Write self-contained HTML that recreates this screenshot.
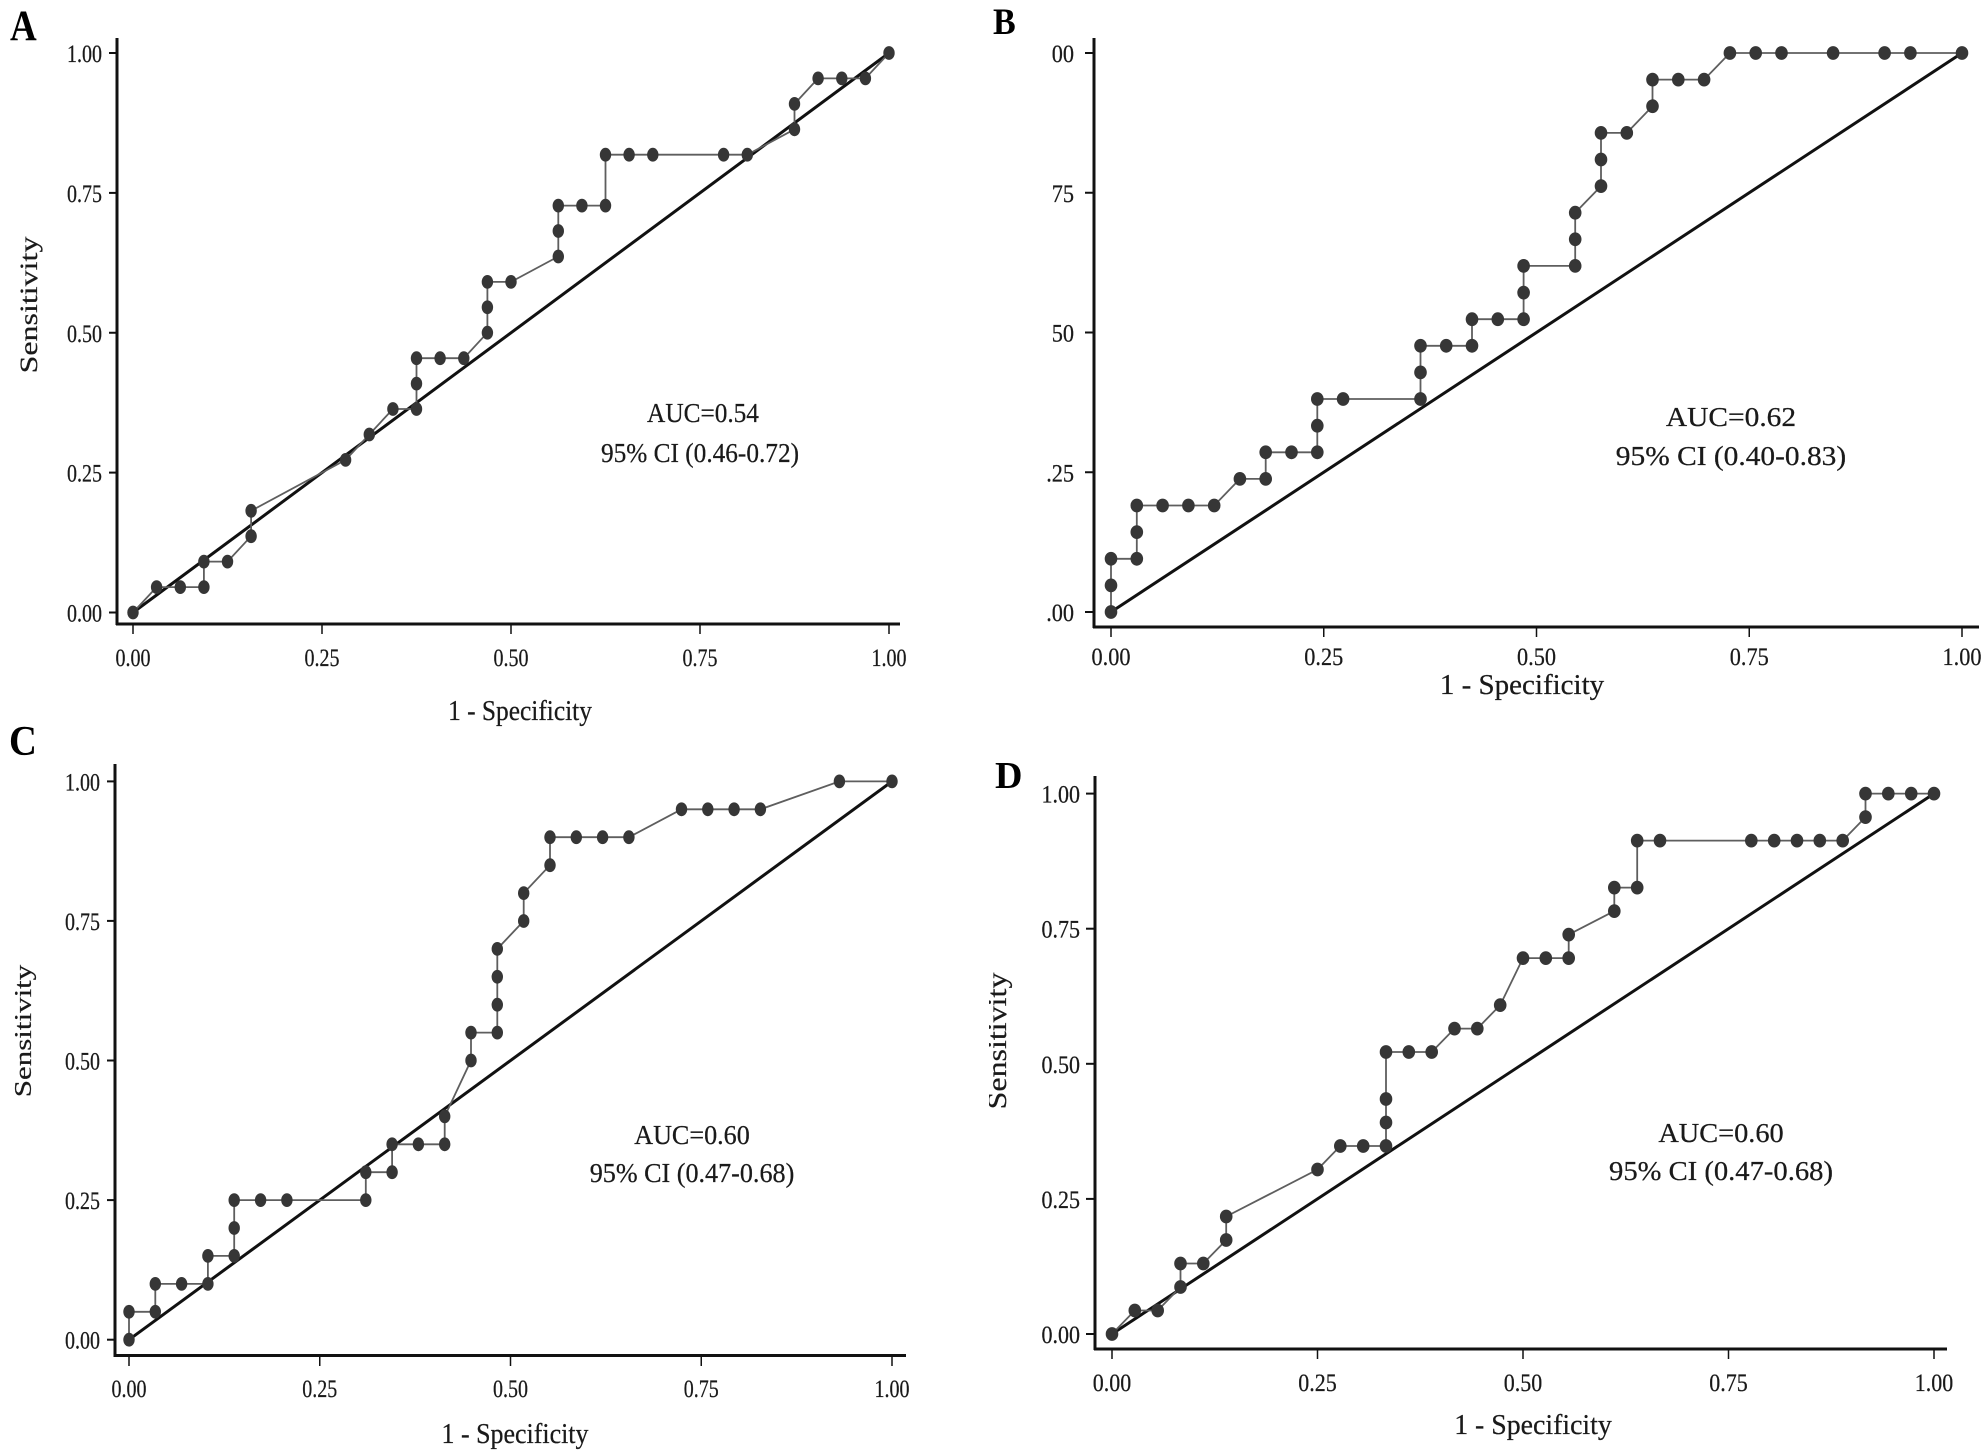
<!DOCTYPE html>
<html>
<head>
<meta charset="utf-8">
<style>
html,body{margin:0;padding:0;background:#fff;}
svg{display:block;}
text{font-family:"Liberation Serif","Times New Roman",serif;fill:#1a1a1a;stroke:#1a1a1a;stroke-width:0.25px;}
.tk{font-size:25px;}
.ttl{font-size:29px;}
.auc{font-size:27.5px;}
.lt{font-weight:bold;fill:#000;stroke:none;}
</style>
</head>
<body>
<svg width="1984" height="1455" viewBox="0 0 1984 1455" xmlns="http://www.w3.org/2000/svg">
<defs>
<marker id="m1" markerUnits="userSpaceOnUse" markerWidth="16" markerHeight="18" refX="8" refY="9" orient="0" style="overflow:visible">
<ellipse cx="8" cy="9" rx="5.7" ry="6.9" fill="#363636"/>
</marker>
<marker id="m2" markerUnits="userSpaceOnUse" markerWidth="16" markerHeight="18" refX="8" refY="9" orient="0" style="overflow:visible">
<ellipse cx="8" cy="9" rx="6.3" ry="6.9" fill="#363636"/>
</marker>
<clipPath id="clipD"><rect x="989" y="700" width="995" height="755"/></clipPath>
</defs>
<rect width="1984" height="1455" fill="#fff"/>

<!-- ================= PANEL A ================= -->
<g>
<line x1="117" y1="38" x2="117" y2="625" stroke="#111" stroke-width="3"/>
<line x1="116" y1="624" x2="900" y2="624" stroke="#111" stroke-width="3"/>
<g stroke="#111" stroke-width="2">
<line x1="109" y1="53" x2="117" y2="53"/>
<line x1="109" y1="192.9" x2="117" y2="192.9"/>
<line x1="109" y1="332.75" x2="117" y2="332.75"/>
<line x1="109" y1="472.6" x2="117" y2="472.6"/>
<line x1="109" y1="612.5" x2="117" y2="612.5"/>
</g>
<g stroke="#111" stroke-width="1.5">
<line x1="133" y1="624" x2="133" y2="634"/>
<line x1="322" y1="624" x2="322" y2="634"/>
<line x1="511" y1="624" x2="511" y2="634"/>
<line x1="700" y1="624" x2="700" y2="634"/>
<line x1="889" y1="624" x2="889" y2="634"/>
</g>
<g class="tk" text-anchor="end">
<text transform="translate(102,62) scale(0.8,1)">1.00</text>
<text transform="translate(102,201.9) scale(0.8,1)">0.75</text>
<text transform="translate(102,341.75) scale(0.8,1)">0.50</text>
<text transform="translate(102,481.6) scale(0.8,1)">0.25</text>
<text transform="translate(102,621.5) scale(0.8,1)">0.00</text>
</g>
<g class="tk" text-anchor="middle">
<text transform="translate(133,666) scale(0.8,1)">0.00</text>
<text transform="translate(322,666) scale(0.8,1)">0.25</text>
<text transform="translate(511,666) scale(0.8,1)">0.50</text>
<text transform="translate(700,666) scale(0.8,1)">0.75</text>
<text transform="translate(889,666) scale(0.8,1)">1.00</text>
</g>
<text class="ttl" text-anchor="middle" transform="translate(520,720) scale(0.876,1)">1 - Specificity</text>
<text style="font-size:32px" text-anchor="middle" transform="translate(37,305) rotate(-90) scale(1,0.8)">Sensitivity</text>
<text class="auc" text-anchor="middle" transform="translate(703,422) scale(0.92,1)">AUC=0.54</text>
<text class="auc" text-anchor="middle" transform="translate(700,462) scale(0.92,1)">95% CI (0.46-0.72)</text>
<text class="lt" style="font-size:43px" transform="translate(10,40) scale(0.86,1)">A</text>
<line x1="133" y1="612.5" x2="889" y2="53" stroke="#111" stroke-width="3"/>
<polyline fill="none" stroke="#5e5e5e" stroke-width="1.8" marker-start="url(#m1)" marker-mid="url(#m1)" marker-end="url(#m1)"
points="133,612.5 156.6,587.1 180.3,587.1 203.9,587.1 203.9,561.6 227.5,561.6 251.1,536.2 251.1,510.8 345.6,459.9 369.3,434.5 392.9,409.0 416.5,409.0 416.5,383.6 416.5,358.2 440.1,358.2 463.8,358.2 487.4,332.7 487.4,307.3 487.4,281.9 511.0,281.9 558.3,256.5 558.3,231.0 558.3,205.6 581.9,205.6 605.5,205.6 605.5,154.7 629.1,154.7 652.8,154.7 723.6,154.7 747.3,154.7 794.5,129.3 794.5,103.9 818.1,78.4 841.8,78.4 865.4,78.4 889,53"/>
</g>

<!-- ================= PANEL B ================= -->
<g>
<line x1="1094" y1="38" x2="1094" y2="628" stroke="#111" stroke-width="3"/>
<line x1="1093" y1="627" x2="1979" y2="627" stroke="#111" stroke-width="3"/>
<g stroke="#111" stroke-width="2">
<line x1="1085" y1="53" x2="1094" y2="53"/>
<line x1="1085" y1="192.75" x2="1094" y2="192.75"/>
<line x1="1085" y1="332.5" x2="1094" y2="332.5"/>
<line x1="1085" y1="472.25" x2="1094" y2="472.25"/>
<line x1="1085" y1="612" x2="1094" y2="612"/>
</g>
<g stroke="#111" stroke-width="1.5">
<line x1="1111" y1="627" x2="1111" y2="637"/>
<line x1="1323.75" y1="627" x2="1323.75" y2="637"/>
<line x1="1536.5" y1="627" x2="1536.5" y2="637"/>
<line x1="1749.25" y1="627" x2="1749.25" y2="637"/>
<line x1="1962" y1="627" x2="1962" y2="637"/>
</g>
<g class="tk" text-anchor="end">
<text transform="translate(1074,62) scale(0.89,1)">00</text>
<text transform="translate(1074,201.75) scale(0.89,1)">75</text>
<text transform="translate(1074,341.5) scale(0.89,1)">50</text>
<text transform="translate(1074,481.25) scale(0.89,1)">.25</text>
<text transform="translate(1074,621) scale(0.89,1)">.00</text>
</g>
<g class="tk" text-anchor="middle">
<text transform="translate(1111,665) scale(0.89,1)">0.00</text>
<text transform="translate(1323.75,665) scale(0.89,1)">0.25</text>
<text transform="translate(1536.5,665) scale(0.89,1)">0.50</text>
<text transform="translate(1749.25,665) scale(0.89,1)">0.75</text>
<text transform="translate(1962,665) scale(0.89,1)">1.00</text>
</g>
<text class="ttl" text-anchor="middle" transform="translate(1522,694) scale(1.0,1)">1 - Specificity</text>
<text class="auc" text-anchor="middle" transform="translate(1731,426) scale(1.07,1)">AUC=0.62</text>
<text class="auc" text-anchor="middle" transform="translate(1731,465) scale(1.07,1)">95% CI (0.40-0.83)</text>
<text class="lt" style="font-size:37px" transform="translate(993,34) scale(0.92,1)">B</text>
<line x1="1111" y1="612" x2="1962" y2="53" stroke="#111" stroke-width="3"/>
<polyline fill="none" stroke="#5e5e5e" stroke-width="1.8" marker-start="url(#m2)" marker-mid="url(#m2)" marker-end="url(#m2)"
points="1111,612 1111,585.4 1111,558.8 1136.8,558.8 1136.8,532.1 1136.8,505.5 1162.6,505.5 1188.4,505.5 1214.2,505.5 1239.9,478.9 1265.7,478.9 1265.7,452.3 1291.5,452.3 1317.3,452.3 1317.3,425.7 1317.3,399.0 1343.1,399.0 1420.5,399.0 1420.5,372.4 1420.5,345.8 1446.2,345.8 1472.0,345.8 1472.0,319.2 1497.8,319.2 1523.6,319.2 1523.6,292.6 1523.6,265.9 1575.2,265.9 1575.2,239.3 1575.2,212.7 1601.0,186.1 1601.0,159.5 1601.0,132.9 1626.8,132.9 1652.5,106.2 1652.5,79.6 1678.3,79.6 1704.1,79.6 1729.9,53 1755.7,53 1781.5,53 1833.1,53 1884.6,53 1910.4,53 1962,53"/>
</g>

<!-- ================= PANEL C ================= -->
<g>
<line x1="115" y1="764" x2="115" y2="1357" stroke="#111" stroke-width="3"/>
<line x1="114" y1="1355.5" x2="906" y2="1355.5" stroke="#111" stroke-width="3"/>
<g stroke="#111" stroke-width="2">
<line x1="107" y1="781.4" x2="115" y2="781.4"/>
<line x1="107" y1="920.9" x2="115" y2="920.9"/>
<line x1="107" y1="1060.5" x2="115" y2="1060.5"/>
<line x1="107" y1="1200.1" x2="115" y2="1200.1"/>
<line x1="107" y1="1339.7" x2="115" y2="1339.7"/>
</g>
<g stroke="#111" stroke-width="1.5">
<line x1="129" y1="1355.5" x2="129" y2="1366"/>
<line x1="319.75" y1="1355.5" x2="319.75" y2="1366"/>
<line x1="510.5" y1="1355.5" x2="510.5" y2="1366"/>
<line x1="701.25" y1="1355.5" x2="701.25" y2="1366"/>
<line x1="892" y1="1355.5" x2="892" y2="1366"/>
</g>
<g class="tk" text-anchor="end">
<text transform="translate(100,790.4) scale(0.8,1)">1.00</text>
<text transform="translate(100,929.9) scale(0.8,1)">0.75</text>
<text transform="translate(100,1069.5) scale(0.8,1)">0.50</text>
<text transform="translate(100,1209.1) scale(0.8,1)">0.25</text>
<text transform="translate(100,1348.7) scale(0.8,1)">0.00</text>
</g>
<g class="tk" text-anchor="middle">
<text transform="translate(129,1397) scale(0.8,1)">0.00</text>
<text transform="translate(319.75,1397) scale(0.8,1)">0.25</text>
<text transform="translate(510.5,1397) scale(0.8,1)">0.50</text>
<text transform="translate(701.25,1397) scale(0.8,1)">0.75</text>
<text transform="translate(892,1397) scale(0.8,1)">1.00</text>
</g>
<text class="ttl" text-anchor="middle" transform="translate(515,1443) scale(0.895,1)">1 - Specificity</text>
<text style="font-size:31px" text-anchor="middle" transform="translate(31,1031) rotate(-90) scale(1,0.8)">Sensitivity</text>
<text class="auc" text-anchor="middle" transform="translate(692,1144) scale(0.95,1)">AUC=0.60</text>
<text class="auc" text-anchor="middle" transform="translate(692,1182) scale(0.95,1)">95% CI (0.47-0.68)</text>
<text class="lt" style="font-size:42px" transform="translate(9,755) scale(0.92,1)">C</text>
<line x1="129" y1="1339.7" x2="892" y2="781.4" stroke="#111" stroke-width="3"/>
<polyline fill="none" stroke="#5e5e5e" stroke-width="1.8" marker-start="url(#m1)" marker-mid="url(#m1)" marker-end="url(#m1)"
points="129,1339.7 129,1311.8 155.3,1311.8 155.3,1283.9 181.6,1283.9 207.9,1283.9 207.9,1255.9 234.2,1255.9 234.2,1228.0 234.2,1200.1 260.6,1200.1 286.9,1200.1 365.8,1200.1 365.8,1172.2 392.1,1172.2 392.1,1144.3 418.4,1144.3 444.7,1144.3 444.7,1116.4 471.0,1060.5 471.0,1032.6 497.3,1032.6 497.3,1004.7 497.3,976.8 497.3,948.9 523.7,921.0 523.7,893.1 550.0,865.2 550.0,837.2 576.3,837.2 602.6,837.2 628.9,837.2 681.5,809.3 707.8,809.3 734.1,809.3 760.4,809.3 839.4,781.4 892,781.4"/>
</g>

<!-- ================= PANEL D ================= -->
<g>
<line x1="1095" y1="776" x2="1095" y2="1350" stroke="#111" stroke-width="3"/>
<line x1="1094" y1="1349" x2="1947" y2="1349" stroke="#111" stroke-width="3"/>
<g stroke="#111" stroke-width="2">
<line x1="1086" y1="793.6" x2="1095" y2="793.6"/>
<line x1="1086" y1="928.7" x2="1095" y2="928.7"/>
<line x1="1086" y1="1063.8" x2="1095" y2="1063.8"/>
<line x1="1086" y1="1198.9" x2="1095" y2="1198.9"/>
<line x1="1086" y1="1334" x2="1095" y2="1334"/>
</g>
<g stroke="#111" stroke-width="1.5">
<line x1="1112" y1="1349" x2="1112" y2="1359"/>
<line x1="1317.5" y1="1349" x2="1317.5" y2="1359"/>
<line x1="1523" y1="1349" x2="1523" y2="1359"/>
<line x1="1728.5" y1="1349" x2="1728.5" y2="1359"/>
<line x1="1934" y1="1349" x2="1934" y2="1359"/>
</g>
<g class="tk" text-anchor="end">
<text transform="translate(1080,802.6) scale(0.88,1)">1.00</text>
<text transform="translate(1080,937.7) scale(0.88,1)">0.75</text>
<text transform="translate(1080,1072.8) scale(0.88,1)">0.50</text>
<text transform="translate(1080,1207.9) scale(0.88,1)">0.25</text>
<text transform="translate(1080,1343) scale(0.88,1)">0.00</text>
</g>
<g class="tk" text-anchor="middle">
<text transform="translate(1112,1391) scale(0.88,1)">0.00</text>
<text transform="translate(1317.5,1391) scale(0.88,1)">0.25</text>
<text transform="translate(1523,1391) scale(0.88,1)">0.50</text>
<text transform="translate(1728.5,1391) scale(0.88,1)">0.75</text>
<text transform="translate(1934,1391) scale(0.88,1)">1.00</text>
</g>
<text class="ttl" text-anchor="middle" transform="translate(1533,1434) scale(0.96,1)">1 - Specificity</text>
<g clip-path="url(#clipD)">
<text style="font-size:32px" text-anchor="middle" transform="translate(1006,1041) rotate(-90) scale(1,0.85)">Sensitivity</text>
</g>
<text class="auc" text-anchor="middle" transform="translate(1721,1142) scale(1.03,1)">AUC=0.60</text>
<text class="auc" text-anchor="middle" transform="translate(1721,1180) scale(1.04,1)">95% CI (0.47-0.68)</text>
<text class="lt" style="font-size:38px" transform="translate(995,788) scale(1.0,1)">D</text>
<line x1="1112" y1="1334" x2="1934" y2="793.6" stroke="#111" stroke-width="3"/>
<polyline fill="none" stroke="#5e5e5e" stroke-width="1.8" marker-start="url(#m2)" marker-mid="url(#m2)" marker-end="url(#m2)"
points="1112,1334 1134.8,1310.5 1157.7,1310.5 1180.5,1287.0 1180.5,1263.5 1203.3,1263.5 1226.2,1240.0 1226.2,1216.5 1317.5,1169.5 1340.3,1146.0 1363.2,1146.0 1386.0,1146.0 1386.0,1122.5 1386.0,1099.0 1386.0,1052.0 1408.8,1052.0 1431.7,1052.0 1454.5,1028.6 1477.3,1028.6 1500.2,1005.1 1523.0,958.1 1545.8,958.1 1568.7,958.1 1568.7,934.6 1614.3,911.1 1614.3,887.6 1637.2,887.6 1637.2,840.6 1660.0,840.6 1751.3,840.6 1774.2,840.6 1797.0,840.6 1819.8,840.6 1842.7,840.6 1865.5,817.1 1865.5,793.6 1888.3,793.6 1911.2,793.6 1934,793.6"/>
</g>
</svg>
</body>
</html>
